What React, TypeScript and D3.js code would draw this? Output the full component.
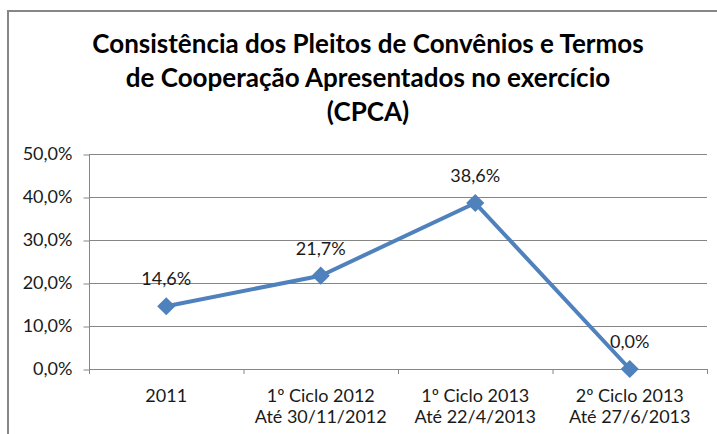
import React, { useEffect, useRef } from 'react';
import * as d3 from 'd3';

// dados
const categories = ['2011', '1º Ciclo 2012|Até 30/11/2012', '1º  Ciclo 2013|Até 22/4/2013', '2º Ciclo 2013|Até 27/6/2013'];
const values = [14.6, 21.7, 38.6, 0.0];
const yTicks = [0, 10, 20, 30, 40, 50];
const titleLines = [
  'Consistência dos Pleitos de Convênios e Termos',
  'de Cooperação Apresentados no exercício',
  '(CPCA)',
];

const W = 717;
const H = 434;
const FONT = 'Lato, "Open Sans", sans-serif';
const fmt = (v: number) => v.toFixed(1).replace('.', ',') + '%';

const App = () => {
  const ref = useRef<SVGSVGElement>(null);

  useEffect(() => {
    const svg = d3.select(ref.current);
    svg.selectAll('*').remove();

    const left = 89, right = 707, top = 154, bottom = 369;

    const x = d3.scaleBand().domain(categories).range([left, right]);
    const y = d3.scaleLinear().domain([0, 50]).range([bottom, top]);

    // moldura
    svg.append('rect')
      .attr('x', 8).attr('y', 11).attr('width', 740).attr('height', 440)
      .attr('fill', '#fff').attr('stroke', '#868686').attr('stroke-width', 2);

    // título
    svg.append('g').selectAll('text')
      .data(titleLines)
      .enter()
      .append('text')
      .attr('x', 368)
      .attr('y', (d, i) => 53 + i * 34)
      .attr('text-anchor', 'middle')
      .attr('font-family', FONT)
      .attr('font-weight', 'bold')
      .attr('font-size', 26)
      .attr('fill', '#000')
      .text(d => d);

    // linhas de grade
    svg.append('g').selectAll('line')
      .data(yTicks.filter(t => t > 0))
      .enter()
      .append('line')
      .attr('x1', left).attr('x2', right)
      .attr('y1', d => y(d) + 0.5).attr('y2', d => y(d) + 0.5)
      .attr('stroke', '#868686');

    // eixo y
    const yAxis = svg.append('g')
      .attr('transform', `translate(${left + 0.5},0)`)
      .call(d3.axisLeft(y).tickValues(yTicks).tickSize(6).tickPadding(11).tickFormat(d => fmt(+d)));
    yAxis.select('.domain').attr('stroke', '#868686').attr('d', `M0,${top}V${bottom + 5}`);
    yAxis.selectAll('.tick line').attr('stroke', '#868686').attr('transform', 'translate(0,0.5)');
    yAxis.selectAll('.tick text')
      .attr('font-family', FONT).attr('font-size', 18).attr('fill', '#1a1a1a');

    // eixo x
    svg.append('line')
      .attr('x1', left).attr('x2', right)
      .attr('y1', bottom + 0.5).attr('y2', bottom + 0.5)
      .attr('stroke', '#868686');
    const bounds = categories.map(c => x(c) as number).concat([right]);
    svg.append('g').selectAll('line')
      .data(bounds)
      .enter()
      .append('line')
      .attr('x1', d => d + 0.5).attr('x2', d => d + 0.5)
      .attr('y1', bottom).attr('y2', bottom + 5)
      .attr('stroke', '#868686');

    const xl = svg.append('g').selectAll('text')
      .data(categories)
      .enter()
      .append('text')
      .attr('x', d => (x(d) as number) + x.bandwidth() / 2)
      .attr('y', 402)
      .attr('text-anchor', 'middle')
      .attr('font-family', FONT)
      .attr('font-size', 18)
      .attr('fill', '#1a1a1a');
    xl.selectAll('tspan')
      .data(d => d.split('|'))
      .enter()
      .append('tspan')
      .attr('x', function () { return (this.parentNode as SVGTextElement).getAttribute('x'); })
      .attr('dy', (d, i) => (i === 0 ? 0 : 21))
      .text(d => d);

    // série
    const cx = (i: number) => (x(categories[i]) as number) + x.bandwidth() / 2;
    const line = d3.line<number>().x((d, i) => cx(i)).y(d => y(d));
    svg.append('path')
      .datum(values)
      .attr('d', line)
      .attr('fill', 'none')
      .attr('stroke', '#4F81BD')
      .attr('stroke-width', 4)
      .attr('stroke-linejoin', 'round');

    svg.append('g').selectAll('path')
      .data(values)
      .enter()
      .append('path')
      .attr('d', d3.symbol(d3.symbolDiamond2, 210))
      .attr('transform', (d, i) => `translate(${cx(i)},${y(d)})`)
      .attr('fill', '#4F81BD');

    // rótulos de dados
    svg.append('g').selectAll('text')
      .data(values)
      .enter()
      .append('text')
      .attr('x', (d, i) => cx(i))
      .attr('y', d => y(d) - 21)
      .attr('text-anchor', 'middle')
      .attr('font-family', FONT)
      .attr('font-size', 18)
      .attr('fill', '#1a1a1a')
      .text(d => fmt(d));
  }, []);

  return (
    <div style={{ position: 'absolute', left: 0, top: 0 }}>
      <svg ref={ref} width={W} height={H} style={{ display: 'block' }}></svg>
    </div>
  );
};

export default App;
